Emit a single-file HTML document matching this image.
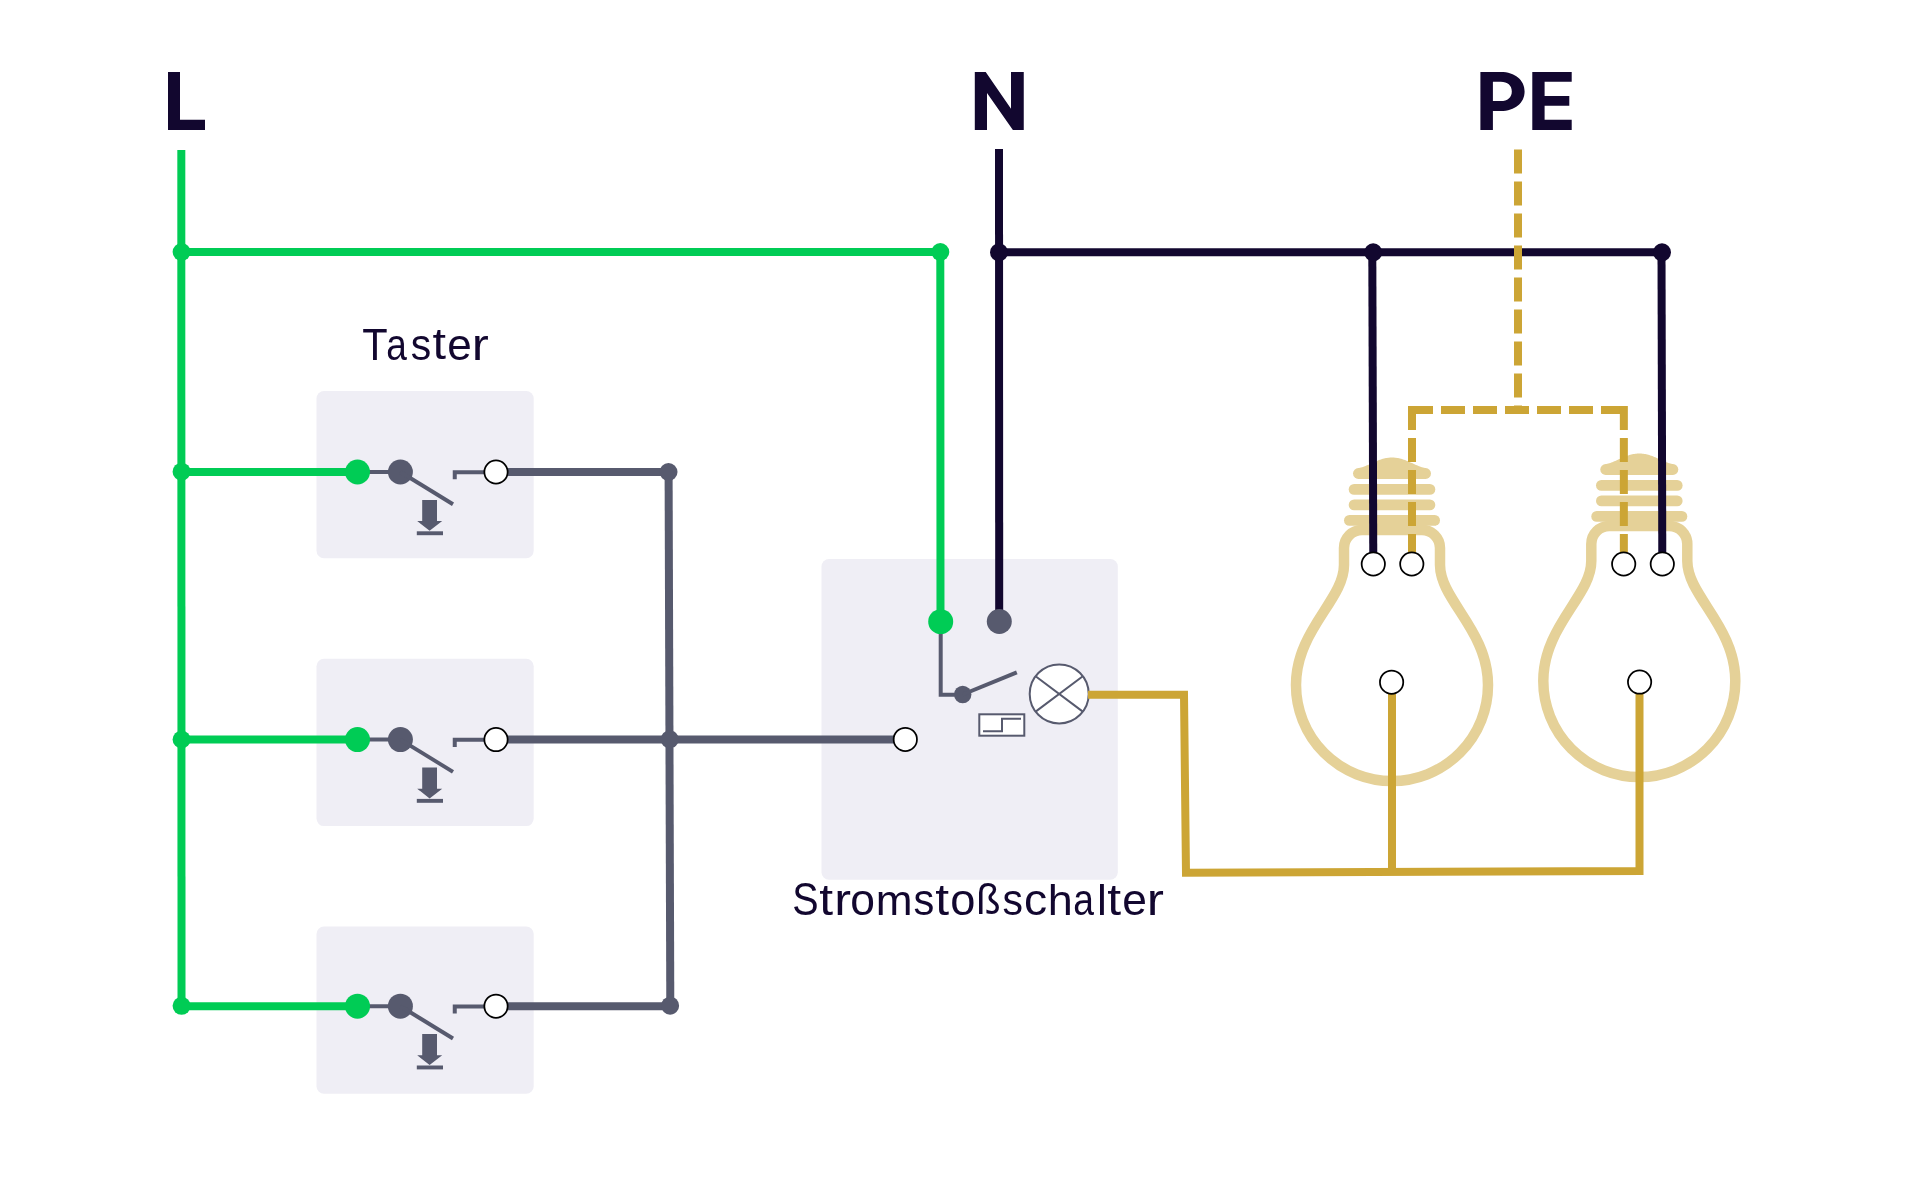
<!DOCTYPE html>
<html><head><meta charset="utf-8"><style>
html,body{margin:0;padding:0;background:#fff;width:1920px;height:1200px;overflow:hidden}
svg{display:block}
text{font-family:"Liberation Sans",sans-serif}
.tx{will-change:transform}
</style></head><body>
<svg width="1920" height="1200" viewBox="0 0 1920 1200">
<rect width="1920" height="1200" fill="#fff"/>
<rect x="316.5" y="391" width="217.2" height="167.3" rx="7.5" fill="#EFEEF5"/>
<rect x="316.5" y="658.8" width="217.2" height="167.3" rx="7.5" fill="#EFEEF5"/>
<rect x="316.5" y="926.5" width="217.2" height="167.3" rx="7.5" fill="#EFEEF5"/>
<rect x="821.5" y="559" width="296.3" height="320.7" rx="7.5" fill="#EFEEF5"/>
<path fill="#12072F" d="M168,72 H180 V119.8 H205 V130 H168 Z"/>
<path fill="#12072F" d="M974.8,72 H985.7 L1011,108.75 V72 H1023.75 V130 H1012.9 L987,92.9 V130 H974.8 Z"/>
<path fill="#12072F" fill-rule="evenodd" d="M1480.4,72 H1500.8 C1515,72 1524.6,80 1524.6,91.5 C1524.6,103 1515,111 1500.8,111 H1492.9 V130 H1480.4 Z M1492.9,81.8 V101 H1500.8 C1507.5,101 1511.8,97.5 1511.8,91.4 C1511.8,85.3 1507.5,81.8 1500.8,81.8 Z"/>
<path fill="#12072F" d="M1532.3,72 H1571.7 V81.8 H1544.6 V96 H1569.3 V105.7 H1544.6 V119.8 H1571.7 V130 H1532.3 Z"/>
<text class="tx" font-family="Liberation Sans" font-size="45" fill="#12072F" transform="matrix(0.9243 0 0 0.9919 362.26 359.77)">T</text>
<text class="tx" font-family="Liberation Sans" font-size="45" fill="#12072F" transform="matrix(0.8235 0 0 0.9778 386.23 360.06)">a</text>
<text class="tx" font-family="Liberation Sans" font-size="45" fill="#12072F" transform="matrix(0.9093 0 0 0.9867 410.87 360.06)">s</text>
<text class="tx" font-family="Liberation Sans" font-size="45" fill="#12072F" transform="matrix(1.0806 0 0 0.9771 432.47 359.36)">t</text>
<text class="tx" font-family="Liberation Sans" font-size="45" fill="#12072F" transform="matrix(0.9797 0 0 0.9778 447.32 360.06)">e</text>
<text class="tx" font-family="Liberation Sans" font-size="45" fill="#12072F" transform="matrix(1.1378 0 0 0.9671 471.87 359.80)">r</text>
<text class="tx" font-family="Liberation Sans" font-size="45" fill="#12072F" transform="matrix(0.8773 0 0 1.0203 792.22 915.04)">S</text>
<text class="tx" font-family="Liberation Sans" font-size="45" fill="#12072F" transform="matrix(1.1068 0 0 0.9941 819.25 914.55)">t</text>
<text class="tx" font-family="Liberation Sans" font-size="45" fill="#12072F" transform="matrix(1.1200 0 0 0.9753 834.32 914.80)">r</text>
<text class="tx" font-family="Liberation Sans" font-size="45" fill="#12072F" transform="matrix(0.9871 0 0 0.9737 850.32 915.06)">o</text>
<text class="tx" font-family="Liberation Sans" font-size="45" fill="#12072F" transform="matrix(0.9825 0 0 0.9630 875.63 914.80)">m</text>
<text class="tx" font-family="Liberation Sans" font-size="45" fill="#12072F" transform="matrix(0.9246 0 0 0.9827 913.55 915.06)">s</text>
<text class="tx" font-family="Liberation Sans" font-size="45" fill="#12072F" transform="matrix(1.1068 0 0 0.9849 935.15 914.56)">t</text>
<text class="tx" font-family="Liberation Sans" font-size="45" fill="#12072F" transform="matrix(1.0058 0 0 0.9737 950.29 915.06)">o</text>
<text class="tx" font-family="Liberation Sans" font-size="45" fill="#12072F" transform="matrix(0.8844 0 0 0.9554 976.21 914.37)">ß</text>
<text class="tx" font-family="Liberation Sans" font-size="45" fill="#12072F" transform="matrix(0.9093 0 0 0.9827 1002.57 915.06)">s</text>
<text class="tx" font-family="Liberation Sans" font-size="45" fill="#12072F" transform="matrix(1.0284 0 0 0.9737 1024.02 915.06)">c</text>
<text class="tx" font-family="Liberation Sans" font-size="45" fill="#12072F" transform="matrix(1.0000 0 0 0.9471 1047.75 914.80)">h</text>
<text class="tx" font-family="Liberation Sans" font-size="45" fill="#12072F" transform="matrix(0.8279 0 0 0.9737 1073.32 915.06)">a</text>
<text class="tx" font-family="Liberation Sans" font-size="45" fill="#12072F" transform="matrix(0.9877 0 0 0.9471 1096.91 914.80)">l</text>
<text class="tx" font-family="Liberation Sans" font-size="45" fill="#12072F" transform="matrix(1.1068 0 0 0.9849 1107.25 914.56)">t</text>
<text class="tx" font-family="Liberation Sans" font-size="45" fill="#12072F" transform="matrix(0.9845 0 0 0.9737 1122.31 915.06)">e</text>
<text class="tx" font-family="Liberation Sans" font-size="45" fill="#12072F" transform="matrix(1.1467 0 0 0.9753 1146.75 914.80)">r</text>
<path d="M181.3,150 L181.5,1006" stroke="#00CC55" stroke-width="8" fill="none"/>
<path d="M181.5,252 H940.3 L940.5,621.7" stroke="#00CC55" stroke-width="8" fill="none"/>
<circle cx="181.6" cy="252" r="9" fill="#00CC55"/>
<circle cx="181.6" cy="471.7" r="9" fill="#00CC55"/>
<circle cx="181.6" cy="739.5" r="9" fill="#00CC55"/>
<circle cx="181.6" cy="1005.8" r="9" fill="#00CC55"/>
<circle cx="940.3" cy="252" r="9" fill="#00CC55"/>
<path d="M181.5,472 H357.5" stroke="#00CC55" stroke-width="8"/>
<path d="M357.5,472 H400.4" stroke="#575A6E" stroke-width="4"/>
<circle cx="357.5" cy="472" r="12.5" fill="#00CC55"/>
<circle cx="400.4" cy="472" r="12.5" fill="#575A6E"/>
<path d="M400.4,472 L453,504.3" stroke="#575A6E" stroke-width="4"/>
<path d="M454.75,479.3 V472.2 H496" stroke="#575A6E" stroke-width="4" fill="none"/>
<path d="M496,472 H669" stroke="#575A6E" stroke-width="8"/>
<circle cx="496" cy="472" r="11.65" fill="#fff" stroke="#000" stroke-width="1.75"/>
<path fill="#575A6E" d="M422.2,499.9 H437 V521.1 H442.2 L429.6,530.8 L417.2,521.1 H422.2 Z"/>
<rect x="416.8" y="531.3" width="26.2" height="3.9" fill="#575A6E"/>
<path d="M181.5,739.6 H357.5" stroke="#00CC55" stroke-width="8"/>
<path d="M357.5,739.6 H400.4" stroke="#575A6E" stroke-width="4"/>
<circle cx="357.5" cy="739.6" r="12.5" fill="#00CC55"/>
<circle cx="400.4" cy="739.6" r="12.5" fill="#575A6E"/>
<path d="M400.4,739.6 L453,771.9" stroke="#575A6E" stroke-width="4"/>
<path d="M454.75,746.9 V739.8000000000001 H496" stroke="#575A6E" stroke-width="4" fill="none"/>
<path d="M496,739.6 H669" stroke="#575A6E" stroke-width="8"/>
<circle cx="496" cy="739.6" r="11.65" fill="#fff" stroke="#000" stroke-width="1.75"/>
<path fill="#575A6E" d="M422.2,767.5 H437 V788.7 H442.2 L429.6,798.4 L417.2,788.7 H422.2 Z"/>
<rect x="416.8" y="798.9" width="26.2" height="3.9" fill="#575A6E"/>
<path d="M181.5,1006.2 H357.5" stroke="#00CC55" stroke-width="8"/>
<path d="M357.5,1006.2 H400.4" stroke="#575A6E" stroke-width="4"/>
<circle cx="357.5" cy="1006.2" r="12.5" fill="#00CC55"/>
<circle cx="400.4" cy="1006.2" r="12.5" fill="#575A6E"/>
<path d="M400.4,1006.2 L453,1038.5" stroke="#575A6E" stroke-width="4"/>
<path d="M454.75,1013.5 V1006.4000000000001 H496" stroke="#575A6E" stroke-width="4" fill="none"/>
<path d="M496,1006.2 H669" stroke="#575A6E" stroke-width="8"/>
<circle cx="496" cy="1006.2" r="11.65" fill="#fff" stroke="#000" stroke-width="1.75"/>
<path fill="#575A6E" d="M422.2,1034.1000000000001 H437 V1055.3 H442.2 L429.6,1065.0 L417.2,1055.3 H422.2 Z"/>
<rect x="416.8" y="1065.5" width="26.2" height="3.9" fill="#575A6E"/>
<path d="M668.6,472 L670.3,1006" stroke="#575A6E" stroke-width="8"/>
<path d="M669.5,739.5 H905.3" stroke="#575A6E" stroke-width="8"/>
<circle cx="668.5" cy="472" r="9" fill="#575A6E"/>
<circle cx="669.7" cy="739.3" r="9" fill="#575A6E"/>
<circle cx="670.1" cy="1005.7" r="9" fill="#575A6E"/>
<circle cx="905.3" cy="739.4" r="11.65" fill="#fff" stroke="#000" stroke-width="1.75"/>
<path d="M1362,530 H1422 A18,18 0 0 1 1440,548 V565 C1440,600 1488,630 1488,685 A96,96 0 0 1 1296,685 C1296,630 1344,600 1344,565 V548 A18,18 0 0 1 1362,530 Z" fill="none" stroke="#E5D198" stroke-width="10.5"/>
<path d="M1349.4,520.4 H1434.6" stroke="#E5D198" stroke-width="10.8" stroke-linecap="round"/>
<path d="M1354.1000000000001,504.9 H1429.8999999999999" stroke="#E5D198" stroke-width="10.8" stroke-linecap="round"/>
<path d="M1354.1000000000001,489.4 H1429.8999999999999" stroke="#E5D198" stroke-width="10.8" stroke-linecap="round"/>
<path d="M1358.4,473.5 H1425.6" stroke="#E5D198" stroke-width="10.8" stroke-linecap="round"/>
<path fill="#E5D198" d="M1359,471 L1359.00,468.00 L1360.00,467.85 L1361.00,467.61 L1362.00,467.31 L1363.00,466.98 L1364.00,466.61 L1365.00,466.22 L1366.00,465.80 L1367.00,465.37 L1368.00,464.93 L1369.00,464.48 L1370.00,464.02 L1371.00,463.56 L1372.00,463.10 L1373.00,462.65 L1374.00,462.20 L1375.00,461.75 L1376.00,461.32 L1377.00,460.91 L1378.00,460.50 L1379.00,460.12 L1380.00,459.76 L1381.00,459.42 L1382.00,459.10 L1383.00,458.80 L1384.00,458.54 L1385.00,458.30 L1386.00,458.09 L1387.00,457.91 L1388.00,457.76 L1389.00,457.65 L1390.00,457.57 L1391.00,457.52 L1392.00,457.50 L1393.00,457.52 L1394.00,457.57 L1395.00,457.65 L1396.00,457.76 L1397.00,457.91 L1398.00,458.09 L1399.00,458.30 L1400.00,458.54 L1401.00,458.80 L1402.00,459.10 L1403.00,459.42 L1404.00,459.76 L1405.00,460.12 L1406.00,460.50 L1407.00,460.91 L1408.00,461.32 L1409.00,461.75 L1410.00,462.20 L1411.00,462.65 L1412.00,463.10 L1413.00,463.56 L1414.00,464.02 L1415.00,464.48 L1416.00,464.93 L1417.00,465.37 L1418.00,465.80 L1419.00,466.22 L1420.00,466.61 L1421.00,466.98 L1422.00,467.31 L1423.00,467.61 L1424.00,467.85 L1425.00,468.00 L1425,471 Z"/>
<path d="M1609.3,526 H1669.3 A18,18 0 0 1 1687.3,544 V561 C1687.3,596 1735.3,626 1735.3,681 A96,96 0 0 1 1543.3,681 C1543.3,626 1591.3,596 1591.3,561 V544 A18,18 0 0 1 1609.3,526 Z" fill="none" stroke="#E5D198" stroke-width="10.5"/>
<path d="M1596.7,516.4 H1681.8999999999999" stroke="#E5D198" stroke-width="10.8" stroke-linecap="round"/>
<path d="M1601.4,500.9 H1677.1999999999998" stroke="#E5D198" stroke-width="10.8" stroke-linecap="round"/>
<path d="M1601.4,485.4 H1677.1999999999998" stroke="#E5D198" stroke-width="10.8" stroke-linecap="round"/>
<path d="M1605.7,469.5 H1672.8999999999999" stroke="#E5D198" stroke-width="10.8" stroke-linecap="round"/>
<path fill="#E5D198" d="M1606.3,467 L1606.30,464.00 L1607.30,463.85 L1608.30,463.61 L1609.30,463.31 L1610.30,462.98 L1611.30,462.61 L1612.30,462.22 L1613.30,461.80 L1614.30,461.37 L1615.30,460.93 L1616.30,460.48 L1617.30,460.02 L1618.30,459.56 L1619.30,459.10 L1620.30,458.65 L1621.30,458.20 L1622.30,457.75 L1623.30,457.32 L1624.30,456.91 L1625.30,456.50 L1626.30,456.12 L1627.30,455.76 L1628.30,455.42 L1629.30,455.10 L1630.30,454.80 L1631.30,454.54 L1632.30,454.30 L1633.30,454.09 L1634.30,453.91 L1635.30,453.76 L1636.30,453.65 L1637.30,453.57 L1638.30,453.52 L1639.30,453.50 L1640.30,453.52 L1641.30,453.57 L1642.30,453.65 L1643.30,453.76 L1644.30,453.91 L1645.30,454.09 L1646.30,454.30 L1647.30,454.54 L1648.30,454.80 L1649.30,455.10 L1650.30,455.42 L1651.30,455.76 L1652.30,456.12 L1653.30,456.50 L1654.30,456.91 L1655.30,457.32 L1656.30,457.75 L1657.30,458.20 L1658.30,458.65 L1659.30,459.10 L1660.30,459.56 L1661.30,460.02 L1662.30,460.48 L1663.30,460.93 L1664.30,461.37 L1665.30,461.80 L1666.30,462.22 L1667.30,462.61 L1668.30,462.98 L1669.30,463.31 L1670.30,463.61 L1671.30,463.85 L1672.30,464.00 L1672.3,467 Z"/>
<path d="M999,149 L999.2,621.5" stroke="#12072F" stroke-width="8"/>
<path d="M999,252.3 H1662" stroke="#12072F" stroke-width="8"/>
<path d="M1372.3,252 L1373.3,564" stroke="#12072F" stroke-width="8"/>
<path d="M1661.5,252 L1662.3,564" stroke="#12072F" stroke-width="8"/>
<circle cx="999" cy="252.3" r="9" fill="#12072F"/>
<circle cx="1373.2" cy="252.3" r="9" fill="#12072F"/>
<circle cx="1662" cy="252.3" r="9" fill="#12072F"/>
<circle cx="940.7" cy="621.7" r="12.5" fill="#00CC55"/>
<circle cx="999.3" cy="621.5" r="12.5" fill="#575A6E"/>
<path d="M940.7,634 V694.7 H962.7" stroke="#575A6E" stroke-width="4" fill="none"/>
<circle cx="962.7" cy="694.5" r="8.7" fill="#575A6E"/>
<path d="M962.7,694.5 L1016.8,672.4" stroke="#575A6E" stroke-width="4"/>
<circle cx="1059.2" cy="693.9" r="29.5" fill="#fff" stroke="#575A6E" stroke-width="2"/>
<path d="M1035.6,676.2 L1082.8,711.6 M1082.8,676.2 L1035.6,711.6" stroke="#575A6E" stroke-width="2"/>
<rect x="979.3" y="714.3" width="45" height="21.4" fill="#fff" stroke="#575A6E" stroke-width="2"/>
<path d="M983,731.3 H1002 V718.7 H1021" stroke="#575A6E" stroke-width="2" fill="none"/>
<path d="M1518,149.5 V406" stroke="#CCA535" stroke-width="8" stroke-dasharray="24 8"/>
<path d="M1408,410 H1627.8" stroke="#CCA535" stroke-width="8" stroke-dasharray="24 8" stroke-dashoffset="-1"/>
<path d="M1412,406 V564" stroke="#CCA535" stroke-width="8" stroke-dasharray="24 8"/>
<path d="M1623.85,406 V564" stroke="#CCA535" stroke-width="8" stroke-dasharray="24 8"/>
<path d="M1088,694.75 H1184 L1186,872.75 L1639.5,870.9 V682" stroke="#CCA535" stroke-width="8" fill="none"/>
<path d="M1392,682 V872" stroke="#CCA535" stroke-width="8"/>
<circle cx="1373.3" cy="564" r="11.65" fill="#fff" stroke="#000" stroke-width="1.75"/>
<circle cx="1411.8" cy="564" r="11.65" fill="#fff" stroke="#000" stroke-width="1.75"/>
<circle cx="1623.7" cy="564" r="11.65" fill="#fff" stroke="#000" stroke-width="1.75"/>
<circle cx="1662.3" cy="564" r="11.65" fill="#fff" stroke="#000" stroke-width="1.75"/>
<circle cx="1391.6" cy="682.2" r="11.65" fill="#fff" stroke="#000" stroke-width="1.75"/>
<circle cx="1639.6" cy="682.1" r="11.65" fill="#fff" stroke="#000" stroke-width="1.75"/>
</svg>
</body></html>
